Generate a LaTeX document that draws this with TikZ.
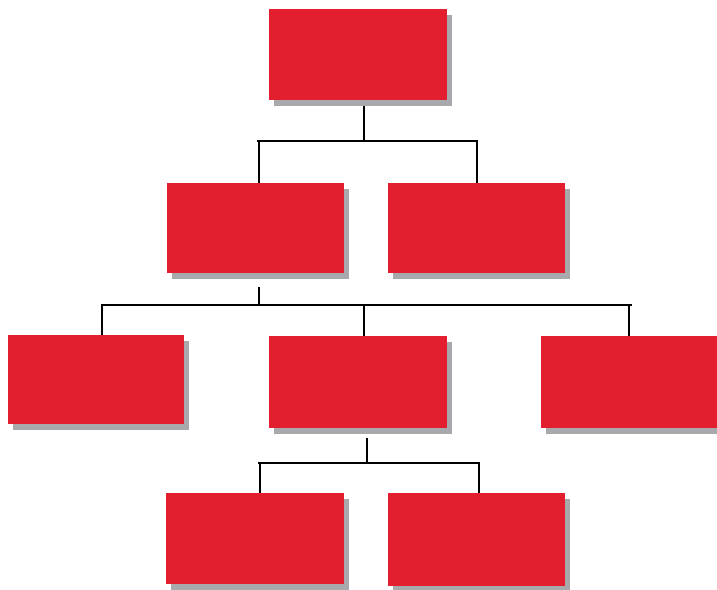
\documentclass[tikz,border=0pt]{standalone}
\usetikzlibrary{shadows}
\definecolor{boxred}{HTML}{E31E2F}
\definecolor{shadowgray}{HTML}{A7A9AC}
\begin{document}
\begin{tikzpicture}[x=1pt,y=-1pt,
  box/.style={fill=boxred, draw=none, inner sep=0pt, outer sep=0pt, anchor=north west,
    minimum width=178pt, minimum height=91pt,
    drop shadow={shadow xshift=5pt, shadow yshift=-6pt, fill=shadowgray, opacity=1}},
  conn/.style={line width=2.6pt, black}]
\useasboundingbox (0,0) rectangle (717,589);
% boxes
\node[box] (top) at (269,9) {};
\node[box, minimum width=177pt, minimum height=90pt] (a) at (167,183) {};
\node[box, minimum width=177pt, minimum height=90pt] (b) at (388,183) {};
\node[box, minimum width=176pt, minimum height=89pt] (c) at (8,335) {};
\node[box, minimum width=178pt, minimum height=92pt] (d) at (269,336) {};
\node[box, minimum width=176pt, minimum height=92pt] (e) at (541,336) {};
\node[box, minimum width=178pt, minimum height=91pt] (f) at (166,493) {};
\node[box, minimum width=177pt, minimum height=93pt] (g) at (388,493) {};
% junction coordinates
\coordinate (j1) at (364,141);
\coordinate (j2) at (259,305);
\coordinate (j3) at (367,463);
% level 1 -> 2
\draw[conn] (364,106) -- (j1);
\draw[conn] (257,141) -- (478,141);
\draw[conn] (259,141) -- (259,183);
\draw[conn] (477,141) -- (477,183);
% level 2 -> 3
\draw[conn] (259,287) -- (j2);
\draw[conn] (101,305) -- (632,305);
\draw[conn] (102,305) -- (102,335);
\draw[conn] (364,305) -- (364,336);
\draw[conn] (629,305) -- (629,336);
% level 3 -> 4
\draw[conn] (367,438) -- (j3);
\draw[conn] (258,463) -- (480,463);
\draw[conn] (260,463) -- (260,493);
\draw[conn] (479,463) -- (479,493);
\end{tikzpicture}
\end{document}
